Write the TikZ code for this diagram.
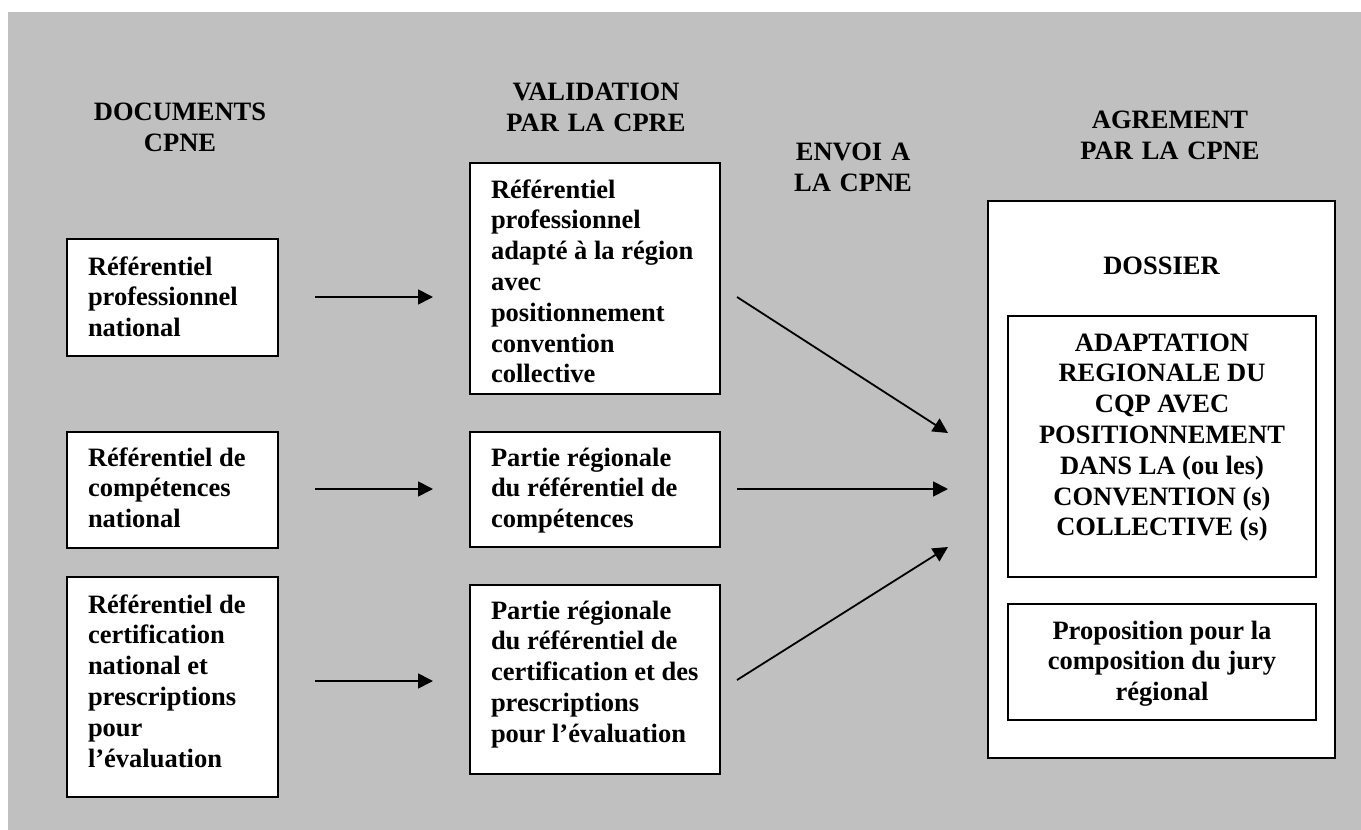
\documentclass[tikz,border=0pt]{standalone}
\usepackage{fontspec}
\setmainfont{Liberation Serif}
\usetikzlibrary{arrows.meta}
\definecolor{bggray}{HTML}{C0C0C0}
\newcommand\lbox[4]{\parbox[t][#2][t]{#1}{\raggedright\leftskip=21pt\rule{0pt}{#3}#4}}
\newcommand\cbox[4]{\parbox[t][#2][t]{#1}{\centering\rule{0pt}{#3}#4}}
\tikzset{
  txtfont/.style={font=\fontsize{26.5}{30.8}\selectfont\bfseries},
  box/.style={txtfont, draw, fill=white, line width=2pt, inner sep=0pt, anchor=north west},
  title/.style={txtfont, font=\fontsize{26.5}{31.5}\selectfont\bfseries, align=center, text width=250pt, inner sep=0pt, anchor=base},
  arr/.style={line width=1.8pt, -{Triangle[length=15pt,width=15pt]}}
}
\begin{document}
\begin{tikzpicture}[x=1pt,y=-1pt]
\useasboundingbox (0,0) rectangle (1361,830);
\fill[white] (0,0) rectangle (1361,830);
\fill[bggray] (8,12) rectangle (1361,830);

% titles
\node[title] (tdoc) at (180,120) {DOCUMENTS\\CPNE};
\node[title] (tval) at (596,100) {VALIDATION\\PAR LA CPRE};
\node[title] (tenv) at (853,160) {ENVOI A\\LA CPNE};
\node[title] (tagr) at (1170,128) {AGREMENT\\PAR LA CPNE};

% left column
\node[box] (L1) at (66,238) {\lbox{211pt}{117pt}{36pt}{R\'ef\'erentiel\\professionnel\\national}};
\node[box] (L2) at (66,431) {\lbox{211pt}{116pt}{34pt}{R\'ef\'erentiel de\\comp\'etences\\national}};
\node[box] (L3) at (66,576) {\lbox{211pt}{220pt}{36pt}{R\'ef\'erentiel de\\certification\\national et\\prescriptions\\pour\\l’\'evaluation}};

% middle column
\node[box] (M1) at (469,162) {\lbox{250pt}{231pt}{35pt}{R\'ef\'erentiel\\professionnel\\adapt\'e \`a la r\'egion\\avec\\positionnement\\convention\\collective}};
\node[box] (M2) at (469,431) {\lbox{250pt}{115pt}{34pt}{Partie r\'egionale\\du r\'ef\'erentiel de\\comp\'etences}};
\node[box] (M3) at (469,584) {\lbox{250pt}{189pt}{34pt}{Partie r\'egionale\\du r\'ef\'erentiel de\\certification et des\\prescriptions\\pour l’\'evaluation}};

% right column
\node[box] (D) at (987,200) {\cbox{347pt}{557pt}{73pt}{DOSSIER}};
\node[box] (R1) at (1007,315) {\cbox{308pt}{261pt}{35pt}{ADAPTATION\\REGIONALE DU\\CQP AVEC\\POSITIONNEMENT\\DANS LA (ou les)\\CONVENTION (s)\\COLLECTIVE (s)}};
\node[box] (R2) at (1007,603) {\cbox{308pt}{116pt}{35pt}{Proposition pour la\\composition du jury\\r\'egional}};

% arrow ends
\coordinate (a1s) at (315,297); \coordinate (a1e) at (433,297);
\coordinate (a2s) at (315,489); \coordinate (a2e) at (433,489);
\coordinate (a3s) at (315,681); \coordinate (a3e) at (433,681);
\coordinate (b1s) at (737,297); \coordinate (b1e) at (948,433);
\coordinate (b2s) at (737,489); \coordinate (b2e) at (948,489);
\coordinate (b3s) at (737,680); \coordinate (b3e) at (948,547);

\draw[arr] (a1s) -- (a1e);
\draw[arr] (a2s) -- (a2e);
\draw[arr] (a3s) -- (a3e);
\draw[arr] (b1s) -- (b1e);
\draw[arr] (b2s) -- (b2e);
\draw[arr] (b3s) -- (b3e);
\end{tikzpicture}
\end{document}
